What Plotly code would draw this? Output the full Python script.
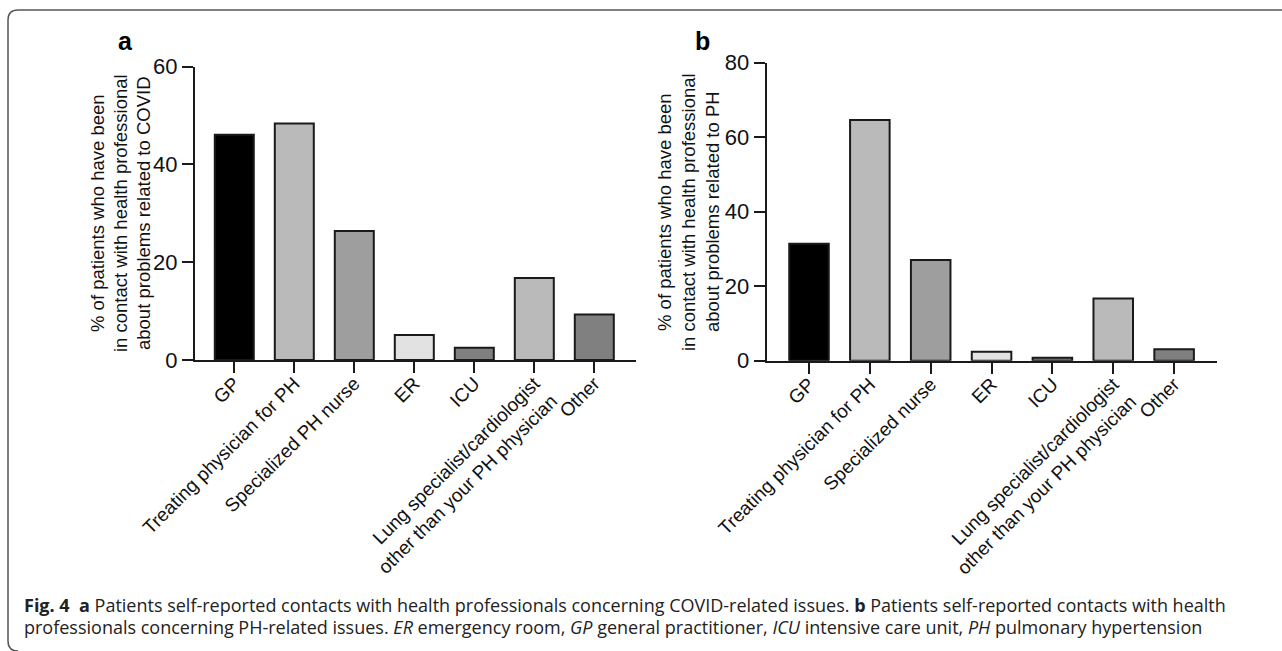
import plotly.graph_objects as go

# Contacts with health professionals (% of patients)
categories_a = ["GP", "Treating physician for PH", "Specialized PH nurse", "ER", "ICU",
                "Lung specialist/cardiologist<br>other than your PH physician", "Other"]
categories_b = ["GP", "Treating physician for PH", "Specialized nurse", "ER", "ICU",
                "Lung specialist/cardiologist<br>other than your PH physician", "Other"]
values_a = [46.1, 48.4, 26.4, 5.1, 2.5, 16.8, 9.3]   # related to COVID
values_b = [31.4, 64.6, 27.0, 2.4, 0.8, 16.7, 3.1]   # related to PH
bar_colors = ["#000000", "#b9bab9", "#9d9e9d", "#e1e2e1", "#808080", "#b9bab9", "#7f807f"]
yticks_a = [0, 20, 40, 60]
yticks_b = [0, 20, 40, 60, 80]

W, H = 1282, 651
AX_FONT = "Liberation Sans, Arial, Helvetica, sans-serif"
INK = "#1a1a1a"


def px(x):
    return x / W


def py(y):
    return 1 - y / H


fig = go.Figure()
fig.add_trace(go.Bar(x=categories_a, y=values_a, width=0.65,
                     marker=dict(color=bar_colors, line=dict(color=INK, width=2)),
                     xaxis="x", yaxis="y", showlegend=False))
fig.add_trace(go.Bar(x=categories_b, y=values_b, width=0.65,
                     marker=dict(color=bar_colors, line=dict(color=INK, width=2)),
                     xaxis="x2", yaxis="y2", showlegend=False))

xcommon = dict(type="category", showline=True, linecolor=INK, linewidth=2,
               ticks="outside", ticklen=11, tickwidth=2, tickcolor=INK,
               tickangle=-45, showgrid=False, zeroline=False, automargin=False,
               ticklabelstandoff=-8,
               tickfont=dict(family=AX_FONT, size=19, color="#111"))
ycommon = dict(showline=True, linecolor=INK, linewidth=2,
               ticks="outside", ticklen=11, tickwidth=2, tickcolor=INK,
               showgrid=False, zeroline=False, automargin=False,
               tickfont=dict(family=AX_FONT, size=22, color="#111"))

fig.update_layout(
    template="none",
    width=W, height=H, margin=dict(l=0, r=0, t=0, b=0, pad=0),
    paper_bgcolor="white", plot_bgcolor="white", bargap=0.35,
    xaxis=dict(xcommon, domain=[px(195), px(636)], range=[-0.655, 6.695], anchor="y"),
    yaxis=dict(ycommon, domain=[py(360), py(66.7)], range=[0, 60], tickvals=yticks_a, anchor="x"),
    xaxis2=dict(xcommon, domain=[px(766.7), px(1216.7)], range=[-0.695, 6.70], anchor="y2"),
    yaxis2=dict(ycommon, domain=[py(360.7), py(62.7)], range=[0, 80], tickvals=yticks_b, anchor="x2"),
)

ann = []
# panel letters
for letter, xl in (("a", 125), ("b", 702)):
    ann.append(dict(text=f"<b>{letter}</b>", x=px(xl), y=py(41), xref="paper", yref="paper",
                    xanchor="center", yanchor="middle", showarrow=False,
                    font=dict(family=AX_FONT, size=25, color="#000")))

# y-axis titles, one annotation per line
title_a = ["% of patients who have been", "in contact with health professional",
           "about problems related to COVID"]
title_b = ["% of patients who have been", "in contact with health professional",
           "about problems related to PH"]
for xs, lines, yc in (([97, 120, 143], title_a, 213), ([664, 688, 712], title_b, 212)):
    for xc, line in zip(xs, lines):
        ann.append(dict(text=line, x=px(xc), y=py(yc), xref="paper", yref="paper",
                        textangle=-90, showarrow=False, xanchor="center", yanchor="middle",
                        font=dict(family=AX_FONT, size=18.5, color="#111")))

# figure caption
CAP_FONT = dict(family="Open Sans, Noto Sans, sans-serif", size=18, color="#222")
cap1 = ("<b>Fig. 4</b>  <b>a</b> Patients self-reported contacts with health professionals concerning "
        "COVID-related issues. <b>b</b> Patients self-reported contacts with health")
cap2 = ("professionals concerning PH-related issues. <i>ER</i> emergency room, <i>GP</i> general "
        "practitioner, <i>ICU</i> intensive care unit, <i>PH</i> pulmonary hypertension")
ann.append(dict(text=cap1, x=px(22), y=py(605), xref="paper", yref="paper", showarrow=False,
                xanchor="left", yanchor="middle", font=CAP_FONT))
ann.append(dict(text=cap2, x=px(22), y=py(627), xref="paper", yref="paper", showarrow=False,
                xanchor="left", yanchor="middle", font=CAP_FONT))
fig.update_layout(annotations=ann)

# frame with rounded left corners
pts = f"M {px(1282)},{py(10)} L {px(18)},{py(10)} Q {px(8)},{py(10)} {px(8)},{py(20)} " \
      f"L {px(8)},{py(641)} Q {px(8)},{py(651)} {px(18)},{py(651)}"
fig.add_shape(type="path", path=pts, xref="paper", yref="paper",
              line=dict(color="#555", width=1.5))

fig.write_html("out.html")
